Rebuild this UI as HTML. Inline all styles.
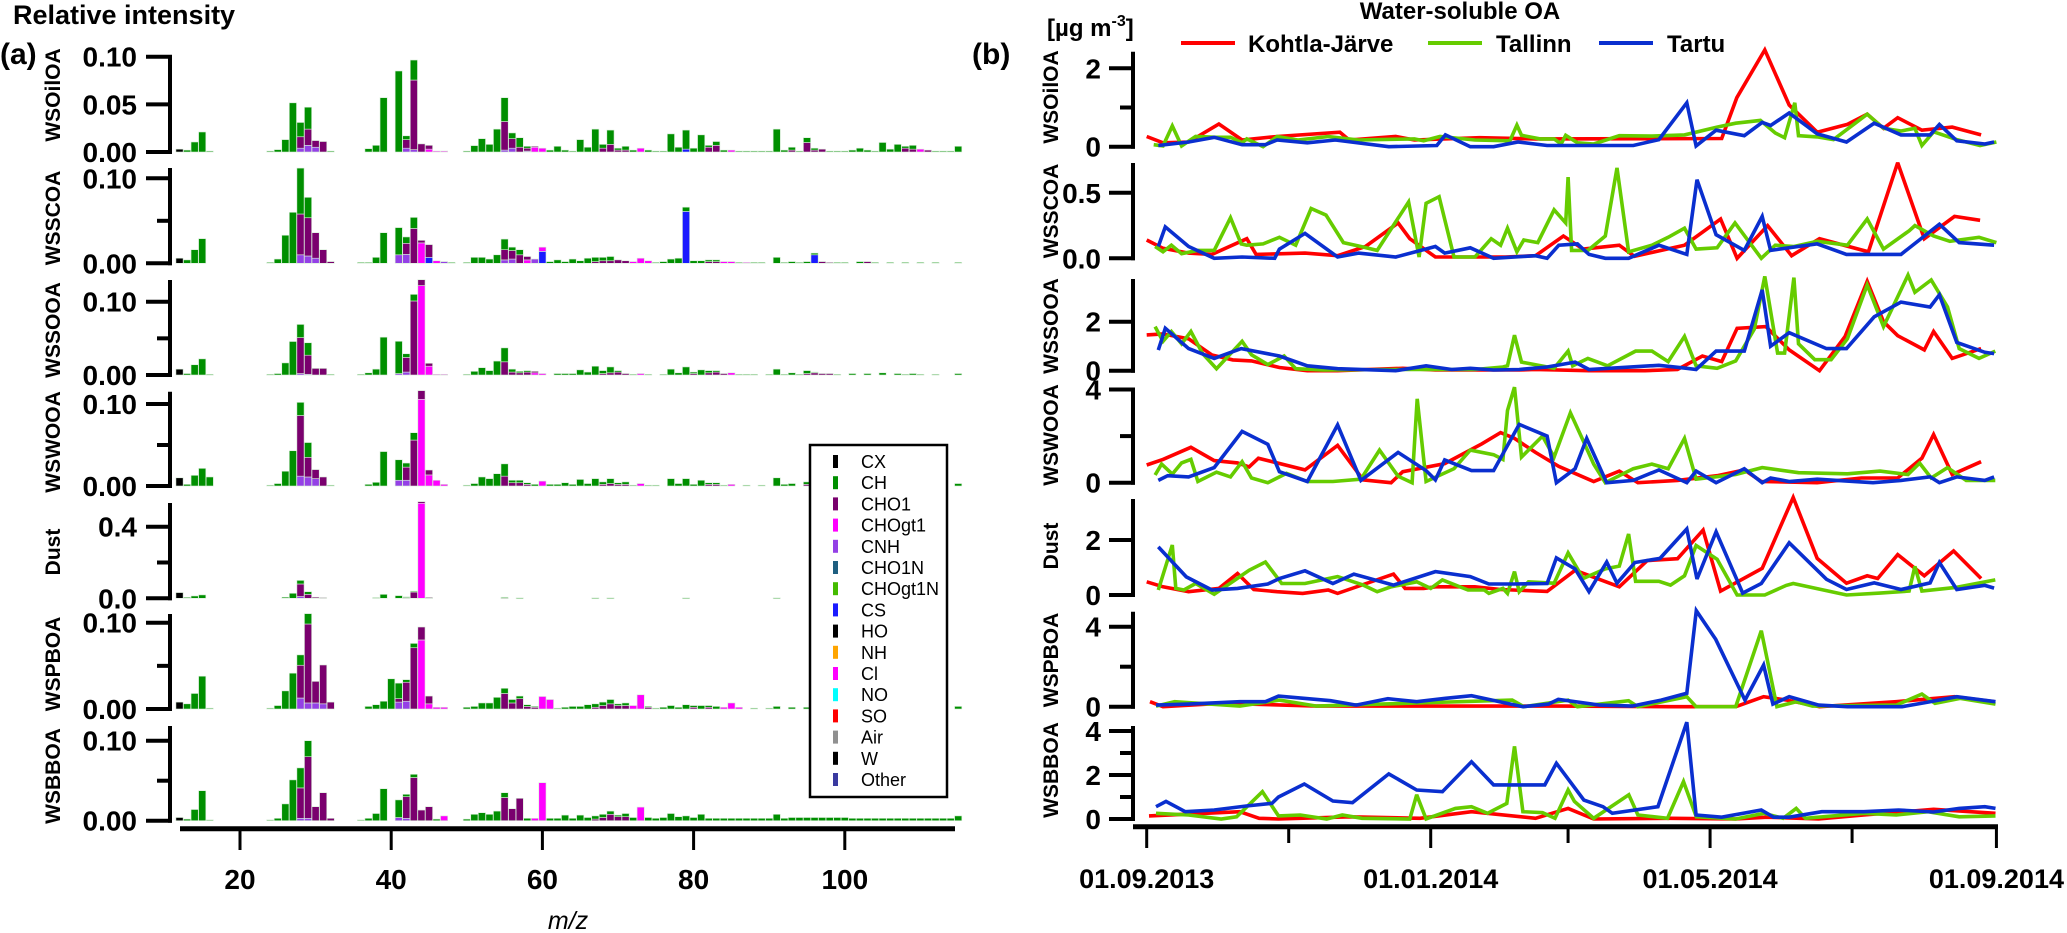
<!DOCTYPE html>
<html><head><meta charset="utf-8"><style>
html,body{margin:0;padding:0;background:#fff;}
svg{display:block;font-family:"Liberation Sans",Arial,sans-serif;}
</style></head><body>
<svg id="fig" width="2067" height="933" viewBox="0 0 2067 933" xmlns="http://www.w3.org/2000/svg">
<text x="13" y="24" font-size="27" font-weight="bold">Relative intensity</text>
<text x="0" y="64" font-size="30" font-weight="bold">(a)</text>
<text x="972" y="64" font-size="30" font-weight="bold">(b)</text>
<text x="1047" y="36" font-size="24" font-weight="bold">[µg m<tspan dy="-10" font-size="16">-3</tspan><tspan dy="10">]</tspan></text>
<text x="1460" y="19" font-size="24" font-weight="bold" text-anchor="middle">Water-soluble OA</text>
<text x="568" y="929" font-size="25" font-style="italic" text-anchor="middle">m/z</text>
<g id="left"></g>
<g id="right"></g>
<g id="legendL"></g>
<g id="legendR"></g>
</svg>
<script>
// ---------- Mass spectra data: [m/z, CH, CHO1, CHOgt1, CNH, CX, CS] ----------
const specWSOilOA = [[12,0,0,0,0,0.003],[13,0.002],[14,0.0105],[15,0.021],[16,0.001],[24,0.001],[25,0.0025],[26,0.013],[27,0.0516],[28,0.015,0.012,0,0.004],[29,0.023,0.017,0,0.007],[30,0,0.007,0,0.005],[31,0,0.011],[32,0.001],[37,0.0035],[38,0.007],[39,0.057],[41,0.085],[42,0.004,0.009,0,0.004],[43,0.021,0.073,0,0.0025],[44,0,0.0085],[45,0,0.004,0.003],[46,0,0,0.001],[47,0,0,0.001],[50,0.001],[51,0.0067],[52,0.014],[53,0.008],[54,0.024],[55,0.025,0.03,0,0.002],[56,0.006,0.01,0,0.004],[57,0.01,0.005],[58,0.002,0.003,0,0.001],[59,0,0.001,0.005],[60,0,0,0.004],[61,0.002],[62,0.006],[63,0.002],[64,0.001],[65,0.013],[66,0.005],[67,0.024],[68,0.004,0.004],[69,0.015,0.008],[70,0.002,0.002],[71,0.004,0.002],[72,0.002],[73,0,0,0.004],[74,0.002],[75,0.001],[76,0.001],[77,0.019],[78,0.005],[79,0.02,0,0,0,0,0.003],[80,0.004],[81,0.018],[82,0.002,0.005],[83,0.004,0.007],[84,0.002],[85,0,0,0.002],[86,0.001],[87,0.001],[88,0.001],[89,0.001],[90,0.001],[91,0.024],[92,0.002],[93,0.003,0.002],[94,0.001],[95,0.005,0.01],[96,0.002,0.002],[97,0,0.003],[98,0.001],[99,0.001],[100,0.001],[101,0.002],[102,0.004],[103,0.002],[104,0.001],[105,0.01],[106,0.003],[107,0.008],[108,0.002,0.004],[109,0.004,0.003],[110,0,0,0.003],[111,0,0.002],[112,0.001],[113,0.001],[114,0.001],[115,0.006]];
const specWSSCOA = [[12,0,0,0,0,0.006],[13,0.004],[14,0.016],[15,0.029],[24,0.001],[25,0.005],[26,0.033],[27,0.06],[28,0.054,0.048,0,0.01],[29,0.024,0.045,0,0.0086],[30,0,0.03,0,0.006],[31,0,0.016],[32,0,0.002],[36,0.001],[37,0.001],[38,0.007],[39,0.036],[41,0.032,0,0,0.01],[42,0.0075,0.013,0,0.0105],[43,0.013,0.041],[44,0,0.003,0.024],[45,0,0.015,0,0,0,0.007],[46,0,0,0.003],[47,0,0,0,0.002],[48,0.001],[50,0.001],[51,0.007],[52,0.007],[53,0.005],[54,0.01],[55,0.0125,0.012,0,0.004],[56,0.004,0.01,0,0.005],[57,0.006,0.01],[58,0,0.004,0.004],[59,0,0,0,0.005],[60,0,0,0.005,0,0,0.014],[61,0.002],[62,0.004],[63,0.002],[64,0.005],[65,0.003],[66,0.006],[67,0.005,0.002],[68,0.004,0.003],[69,0.005,0.003],[70,0,0.004],[71,0,0.003],[72,0,0,0.002],[73,0,0,0.006],[74,0,0,0.003],[75,0.001],[76,0.002],[77,0.005],[78,0.006],[79,0.005,0,0,0,0,0.061],[80,0.003],[81,0.003],[82,0.002,0.002],[83,0.002,0.002],[84,0,0,0.002],[85,0,0,0.002],[86,0.001],[87,0,0,0.001],[88,0.001],[89,0.001],[91,0.007],[92,0.001],[93,0.002],[94,0.001],[95,0.002],[96,0.002,0,0,0,0,0.01],[97,0,0.002],[98,0,0.001],[99,0.001],[100,0.001],[102,0.002],[103,0,0.002],[104,0.001],[106,0.001],[108,0.001],[110,0.001],[112,0.001],[115,0.001]];
const specWSSOOA = [[12,0,0,0,0,0.008],[13,0.002],[14,0.014],[15,0.022],[16,0.001],[24,0.001],[25,0.002],[26,0.0165],[27,0.0457],[28,0.018,0.049,0,0.002],[29,0.017,0.026,0,0.001],[30,0,0.009],[31,0,0.009],[32,0.001],[36,0.001],[37,0.003],[38,0.008],[39,0.0516],[41,0.044,0,0,0.002],[42,0.005,0.02,0,0.004],[43,0.009,0.101],[44,0,0.008,0.122],[45,0,0.004,0.012],[46,0,0,0.001],[47,0,0,0.001],[50,0.001],[51,0.005],[52,0.01],[53,0.006],[54,0.019],[55,0.019,0.018],[56,0.004,0.004],[57,0.002,0.003],[58,0.002,0.004],[59,0,0.002,0.003],[60,0,0,0.002],[62,0.002],[63,0.002],[64,0.002],[65,0.007],[66,0.004],[67,0.012],[68,0.004,0.002],[69,0.008,0.003],[70,0.002,0.004],[71,0,0.002],[72,0.001],[73,0,0,0.002],[74,0.001],[76,0.001],[77,0.008],[78,0.003],[79,0.011],[80,0.002,0.002],[81,0.007],[82,0.003,0.003],[83,0.002,0.004],[84,0,0.002],[85,0,0,0.003],[86,0.001],[87,0.001],[88,0.001],[90,0.001],[91,0.008],[92,0.001],[93,0.003],[94,0.001],[95,0.004,0.002],[96,0.001,0.003],[97,0,0.002],[98,0,0.002],[99,0.001],[101,0.002],[103,0.002],[105,0.003],[107,0.002],[108,0.001],[109,0.002],[110,0.001],[112,0.001],[115,0.002]];
const specWSWOOA = [[12,0,0,0,0,0.01],[13,0.002],[14,0.013],[15,0.0215],[16,0.011],[24,0.001],[25,0.003],[26,0.018],[27,0.043],[28,0.016,0.074,0,0.012],[29,0.018,0.024,0,0.011],[30,0,0.011,0,0.009],[31,0,0.011],[32,0.001],[37,0.002],[38,0.0045],[39,0.042],[41,0.025,0,0,0.007],[42,0.005,0.016,0,0.007],[43,0.009,0.056],[44,0,0.0106,0.1057],[45,0,0.006,0.0135],[46,0,0,0.007],[47,0,0,0.002],[50,0.001],[51,0.003],[52,0.011],[53,0.009],[54,0.015],[55,0.015,0.012],[56,0.003,0.004],[57,0.003,0.004],[58,0.002,0.002],[59,0.002],[60,0,0,0.006],[61,0.002],[62,0.002],[63,0.004],[64,0.002],[65,0.008],[66,0.003],[67,0.009],[68,0.003,0.002],[69,0.006,0.003],[70,0.002,0.002],[71,0.003,0.002],[72,0.001],[73,0,0,0.003],[74,0.001],[75,0.001],[77,0.009],[78,0.003],[79,0.009],[80,0.002],[81,0.007],[82,0.002,0.002],[83,0.002,0.002],[84,0.001],[85,0,0,0.002],[87,0.001],[89,0.001],[91,0.01],[92,0.002],[93,0.003],[95,0.003,0.002],[96,0.002],[97,0.001],[99,0.001],[101,0.002],[103,0.001],[105,0.002],[107,0.002],[109,0.001],[115,0.003]];
const specDust = [[12,0,0,0,0,0.032],[13,0.005],[14,0.013],[15,0.019],[26,0.006],[27,0.028],[28,0.02,0.07,0,0.01],[29,0.015,0.022],[30,0,0.006],[31,0,0.004],[38,0.004],[39,0.022],[41,0.015],[42,0.004,0.004],[43,0.005,0.035],[44,0,0.009,0.531],[45,0,0.002,0.003],[55,0.004,0.002],[57,0.002],[67,0.002],[69,0.002],[79,0.002],[91,0.002]];
const specWSPBOA = [[12,0,0,0,0,0.008],[13,0.006],[14,0.018],[15,0.038],[16,0.001],[24,0.001],[25,0.004],[26,0.021],[27,0.0415],[28,0.012,0.038,0,0.0127],[29,0.012,0.0915,0,0.007],[30,0,0.025,0,0.007],[31,0,0.045,0,0.006],[32,0,0.008],[37,0.003],[38,0.005],[39,0.009],[40,0.035],[41,0.018,0.004,0,0.008],[42,0.003,0.022,0,0.009],[43,0.005,0.071],[44,0,0.015,0.08],[45,0,0.009,0.006],[46,0,0,0.002],[47,0,0,0.002],[50,0.002],[51,0.003],[52,0.007],[53,0.007],[54,0.0135],[55,0.006,0.018],[56,0.004,0.007],[57,0.003,0.012],[58,0.002,0.003],[59,0.001,0.002],[60,0,0,0.0145],[61,0,0,0.011],[62,0.001],[63,0.002],[64,0.003],[65,0.003],[66,0.005],[67,0.004,0.002],[68,0.004,0.004],[69,0.005,0.006],[70,0.002,0.004],[71,0.003,0.004],[72,0,0,0.004],[73,0,0,0.0165],[74,0.001,0.002],[75,0.001],[76,0.002],[77,0.004],[78,0.002],[79,0.005],[80,0.002,0.002],[81,0.004],[82,0.002,0.002],[83,0.003],[84,0,0,0.002],[85,0,0,0.007],[86,0,0,0.002],[88,0.001],[90,0.001],[91,0.003],[93,0.002],[95,0.002],[97,0.001],[99,0.001],[101,0.001],[103,0.001],[105,0.001],[107,0.001],[109,0.001],[115,0.003]];
const specWSBBOA = [[12,0,0,0,0,0.004],[13,0.002],[14,0.014],[15,0.0375],[16,0.001],[24,0.001],[25,0.003],[26,0.021],[27,0.051],[28,0.025,0.038,0,0.003],[29,0.02,0.077,0,0.003],[30,0,0.0175],[31,0,0.035],[32,0,0.003],[36,0.001],[37,0.003],[38,0.009],[39,0.04],[41,0.022,0,0,0.004],[42,0.003,0.027,0,0.003],[43,0.004,0.054],[44,0,0.0133],[45,0,0.0175],[46,0.002],[47,0,0,0.006],[50,0.002],[51,0.008],[52,0.01],[53,0.008],[54,0.012],[55,0.006,0.029],[56,0,0.015],[57,0,0.028],[58,0.003],[59,0,0,0.003],[60,0,0,0.0475],[61,0.003],[62,0.003],[63,0.007],[64,0.003],[65,0.007],[66,0.004],[67,0.004,0.002],[68,0.004,0.004],[69,0.004,0.008],[70,0.002,0.005],[71,0.004,0.005],[72,0.004],[73,0,0,0.017],[74,0.004],[75,0.003],[76,0.004],[77,0.009],[78,0.005],[79,0.006],[80,0.004],[81,0.008],[82,0.003],[83,0.003],[84,0.003],[85,0.003],[86,0.003],[87,0.003],[88,0.003],[89,0.003],[90,0.003],[91,0.008],[92,0.003],[93,0.004],[94,0.004],[95,0.004],[96,0.004],[97,0.004],[98,0.004],[99,0.004],[100,0.004],[101,0.003],[102,0.003],[103,0.003],[104,0.003],[105,0.003],[106,0.003],[107,0.003],[108,0.003],[109,0.003],[110,0.003],[111,0.003],[112,0.003],[113,0.003],[114,0.003],[115,0.006]];

// ---------- Time series data: [days since 01.09.2013, µg m-3] ----------
const oilRed = [[0,0.26],[7,0.1],[18,0.12],[31,0.58],[41,0.17],[56,0.26],[83,0.37],[87,0.17],[107,0.26],[115,0.17],[143,0.23],[167,0.2],[247,0.21],[253.5,1.25],[265.5,2.47],[276,1.06],[288,0.37],[301,0.57],[309.5,0.83],[316.5,0.47],[322.6,0.74],[333,0.42],[346,0.5],[358.4,0.3]];
const oilGreen = [[3,0.05],[7,0.02],[11,0.53],[15,0.02],[21,0.26],[30,0.24],[36,0.24],[41,0.1],[43,0.2],[50,0.0],[56,0.26],[65,0.17],[78,0.26],[91,0.17],[115,0.2],[119,0.15],[126,0.26],[141,0.17],[156,0.15],[159,0.55],[161,0.29],[169,0.2],[175,0.2],[178,0.07],[180,0.29],[185,0.1],[192,0.07],[203,0.28],[217,0.27],[231,0.3],[245,0.5],[253,0.6],[263.6,0.67],[270,0.35],[274,0.23],[278.4,1.12],[280,0.28],[288,0.25],[295,0.18],[309.5,0.83],[316.5,0.47],[324,0.4],[330,0.47],[333,0.03],[338,0.38],[348,0.18],[358,0.03],[365,0.12]];
const oilBlue = [[5,0.03],[18,0.12],[29,0.24],[41,0.05],[51,0.05],[56,0.17],[69,0.1],[81,0.17],[104,0],[124.6,0.03],[128.3,0.3],[139,0],[149,0],[159.5,0.12],[172,0.03],[209,0.03],[220,0.18],[232,1.12],[236,0.02],[244.6,0.42],[256.7,0.28],[264.4,0.62],[268,0.54],[276,0.86],[288,0.33],[300.6,0.12],[312.5,0.6],[324,0.3],[336.5,0.3],[340.5,0.57],[348,0.15],[360,0.07],[364,0.12]];
const scRed = [[0,0.14],[7,0.076],[18,0.04],[28,0.03],[43,0.15],[47,0.03],[68,0.04],[82,0.02],[94,0.09],[108,0.27],[113,0.15],[124,0.01],[154,0.01],[167,0.02],[179,0.17],[187.5,0.07],[203,0.1],[209.5,0.015],[231,0.1],[246.5,0.3],[253.6,0],[266.7,0.25],[277,0.02],[289,0.15],[310,0.05],[322.6,0.73],[334,0.15],[347,0.32],[358,0.29]];
const scGreen = [[3.6,0.09],[7,0.05],[10.6,0.1],[15,0.035],[22,0.06],[29,0.06],[36,0.31],[40.6,0.11],[43,0.1],[50,0.11],[57,0.16],[64,0.1],[70.6,0.38],[77,0.33],[84.5,0.12],[92,0.09],[99,0.06],[112.5,0.43],[117,0.01],[120,0.42],[125.6,0.47],[132,0.01],[141,0.01],[148,0.15],[152,0.1],[155,0.23],[159,0.05],[162,0.14],[168,0.12],[175,0.37],[180,0.27],[181,0.62],[182.5,0.06],[189.5,0.06],[197,0.17],[202,0.69],[207,0.05],[217,0.1],[224,0.16],[231,0.23],[236,0.07],[245,0.08],[252.7,0.27],[264,0],[270,0.1],[278,0.09],[288,0.13],[301,0.1],[309.5,0.3],[316.5,0.07],[327.5,0.21],[330,0.25],[338,0.17],[345,0.13],[357.5,0.16],[365,0.12]];
const scBlue = [[5,0.09],[8,0.24],[18,0.09],[29,0],[41,0.01],[55,0],[57,0.07],[68,0.19],[82,0.01],[91,0.04],[107,0.01],[124,0.09],[128,0.04],[139,0.08],[149,0],[167,0.02],[172,0],[177,0.1],[185,0.11],[190,0.03],[197,0],[207,0],[220,0.1],[232,0.03],[236.4,0.6],[244.6,0.18],[256.7,0.06],[264.4,0.32],[268,0.06],[288,0.11],[300.6,0.03],[324,0.03],[340.5,0.26],[349,0.12],[364,0.1]];
const sooRed = [[0,1.46],[7,1.5],[18,1.3],[28,0.64],[37,0.44],[45,0.4],[57,0.13],[69,0],[82,0],[110,0.1],[124,0.03],[160,0.03],[167,0.05],[190,0],[214,0],[228,0.05],[238.7,0.6],[247,0.37],[253.6,1.73],[266,1.8],[276,0.85],[289,0],[300,1.4],[309.5,3.65],[316.5,2.0],[322.6,1.43],[334,0.85],[338,1.6],[346,0.5],[358.4,0.9]];
const sooGreen = [[3.6,1.8],[7,1.2],[10.6,1.6],[15,1.1],[19,1.6],[24,0.7],[30,0.08],[41,1.2],[45,0.65],[52,0.25],[59,0.6],[64,0.08],[76,0.03],[108,0.05],[141,0.05],[153,0.15],[155,0.2],[158,1.45],[161,0.35],[175,0.1],[181,0.8],[183,0.2],[189.5,0.5],[198,0.2],[210,0.8],[217,0.8],[224,0.37],[231,1.4],[236,0.2],[245,0.1],[253,0.4],[261,1.7],[265.5,3.85],[271,0.72],[274,0.72],[278,3.8],[280,1.1],[287,0.45],[294,0.45],[301,1.3],[309.5,3.5],[316.5,1.8],[327,3.9],[330,3.2],[337,3.7],[344,2.6],[349,0.9],[357.5,0.5],[364.5,0.8]];
const sooBlue = [[5,0.84],[8,1.73],[18,0.9],[29,0.5],[40.6,0.9],[57,0.6],[69,0.2],[82,0.08],[107,0],[120,0.2],[131,0.05],[139,0.1],[149,0.03],[160,0.05],[172,0.15],[184,0.35],[190,0.05],[220,0.22],[232,0.1],[236,0.05],[244.6,0.8],[256.7,0.8],[264.4,3.3],[268,1.0],[276,1.55],[292,0.9],[300.6,0.9],[312.5,2.2],[324,2.8],[336.5,2.6],[340.5,3.1],[348,1.15],[360,0.75],[364,0.7]];
const wooRed = [[0,0.76],[7,1.0],[19,1.52],[29,0.95],[39,0.85],[44,0.68],[48,1.05],[68,0.55],[82,1.6],[93,0.12],[105,0],[110,0.47],[128,0.82],[144,1.67],[152,2.15],[158,1.9],[167,1.3],[177,0.7],[192,0.05],[203,0.5],[211,0],[228,0.1],[245,0.3],[256.7,0.55],[264,0.05],[288,0],[307,0.2],[322.6,0.2],[333,1.05],[338,2.07],[346,0.35],[358.4,0.9]];
const wooGreen = [[3.6,0.33],[6.4,0.8],[11,0.37],[15,0.85],[19,1.0],[22,0.05],[30,0.45],[36,0.25],[41,0.9],[45,0.2],[52,0],[60,0.4],[69,0.05],[80,0.05],[92,0.15],[100,1.4],[108,0.28],[114,0],[116.2,3.6],[120,0.05],[132,0.6],[139,1.4],[149,1.2],[153,1.0],[155,3.1],[158,4.1],[161,1.1],[170,2.0],[175,1.1],[182,3.0],[187.5,1.8],[192,0.8],[197,0],[209,0.6],[217,0.8],[224,0.6],[231,1.9],[236,0.15],[253,0.35],[264.4,0.65],[280,0.43],[301,0.38],[315,0.5],[327,0.35],[332,0.84],[337,0.2],[344,0.65],[352,0.1],[364.5,0.1]];
const wooBlue = [[5,0.1],[9,0.3],[18,0.25],[29,0.65],[41,2.2],[52,1.65],[57,0.47],[69,0.05],[82,2.48],[92,0.1],[108,1.3],[120,0.52],[124,0.12],[128,0.98],[139.5,0.52],[149,0.52],[160,2.5],[172,2.0],[176,0],[184,0.6],[189,1.9],[197.6,0],[209,0.1],[220,0.55],[232,0],[236,0.5],[244.6,0],[256.7,0.6],[264.4,0],[268,0.2],[276,0.05],[288,0.15],[312,0],[324,0.1],[336.5,0.25],[340.5,0],[348,0.25],[360,0.1],[364,0.25]];
const dustRed = [[0,0.48],[7,0.3],[18,0.12],[31,0.24],[39,0.78],[46,0.2],[56,0.12],[67,0.06],[78,0.18],[82,0.06],[106,0.76],[111,0.24],[119,0.24],[124,0.3],[141,0.3],[152,0.2],[172,0.13],[184,0.9],[203,0.3],[215,1.25],[228,1.32],[239,2.36],[246.5,0.14],[264.4,0.97],[277.7,3.55],[288,1.33],[300.6,0.43],[309.5,0.7],[314,0.6],[322.6,1.47],[334,0.7],[346.6,1.6],[358.4,0.6]];
const dustGreen = [[5,0.18],[11,1.82],[12.5,0.24],[16,0.18],[21,0.42],[29,0.03],[38,0.55],[44,0.9],[51,1.2],[58,0.42],[68,0.42],[82,0.67],[93,0.36],[99,0.12],[105,0.3],[116,0.48],[122,0.24],[127,0.55],[138,0.18],[145,0.18],[147,0.06],[153,0.24],[155,0.06],[158,0.85],[160,0.12],[164,0.48],[175,0.43],[181,1.53],[187.5,0.6],[197,0.95],[203,1.05],[207,2.22],[210,0.5],[220,0.5],[225,0.36],[231,0.7],[236,1.8],[245,1.3],[253.6,0],[265.5,0],[274.7,0.35],[277.7,0.42],[300.6,0],[315,0.07],[327.5,0.14],[330,1.04],[333,0.14],[348,0.28],[364.5,0.55]];
const dustBlue = [[5,1.75],[17,0.66],[28,0.18],[39,0.24],[52,0.4],[57,0.6],[68,0.88],[80,0.42],[89,0.76],[106,0.36],[124,0.85],[139,0.67],[147,0.4],[158,0.4],[172,0.42],[176,1.35],[184,0.95],[190,0.12],[197.6,1.2],[202,0.43],[209.7,1.18],[220.5,1.33],[232,2.4],[236.4,0.58],[244.6,2.3],[256,0.07],[264,0.42],[276,1.9],[292,0.57],[300.6,0.2],[312.5,0.44],[324,0.2],[336.5,0.44],[340.5,1.18],[348,0.2],[360,0.35],[364,0.25]];
const pbRed = [[1.4,0.25],[7,0],[32,0.17],[73,0.03],[117,0.03],[178,0.03],[225,0],[253,0],[265,0.5],[275,0.33],[289,0],[322,0.25],[347,0.5],[364,0.25]];
const pbGreen = [[4,0.03],[12,0.25],[40,0.03],[57,0.33],[73,0.03],[157,0.33],[162,0],[181,0.33],[185,0],[207,0.3],[211,0],[232,0.5],[236,0],[253,0],[264,3.8],[270.7,0],[279,0.25],[286,0.03],[322,0.08],[333,0.63],[338.6,0.17],[349.4,0.42],[364.6,0.13]];
const pbBlue = [[4,0.08],[18,0.13],[40,0.25],[51,0.25],[56.6,0.53],[79,0.3],[90,0.08],[103.6,0.4],[116,0.25],[128.4,0.42],[139.5,0.55],[161.6,0],[172.6,0.13],[176.8,0.37],[194.7,0.08],[208.5,0.03],[221,0.33],[232,0.67],[236.1,4.8],[244.4,3.37],[257,0.33],[265,2.08],[269,0.13],[276,0.5],[288.6,0.08],[301,0],[324.5,0],[335.6,0.23],[348,0.5],[364.6,0.25]];
const bbRed = [[1,0.14],[40,0.33],[48.3,0.03],[56.6,0],[87,0.1],[117.4,0.03],[139.5,0.33],[167,0.03],[181,0.48],[192,0],[225,0.03],[253,0],[266.5,0.08],[288.6,0],[308,0.18],[338,0.44],[364.6,0.26]];
const bbGreen = [[4,0.26],[18,0.18],[32,0],[38.6,0.1],[49.7,1.24],[56.6,0.14],[66,0.18],[77.3,0],[84,0.18],[92.5,0.03],[113,0],[116,1.1],[120,0],[132.6,0.48],[139.5,0.56],[146.4,0.26],[154.7,0.71],[158,3.3],[161.6,0.33],[170,0.29],[175.4,0.03],[181,1.32],[183.7,0.8],[192,0.03],[207.1,1.1],[211,0.18],[223.7,0.03],[230.6,1.7],[236.1,0.1],[253,0],[265,0.26],[273.4,0.03],[279,0.48],[283,0.03],[308,0.26],[322,0.18],[335.6,0.33],[349,0.1],[364.6,0.14]];
const bbBlue = [[4,0.56],[8.3,0.8],[16.6,0.33],[29,0.41],[42.8,0.59],[53.8,0.71],[56.6,1.0],[67.7,1.59],[80,0.82],[88.4,0.74],[104,2.05],[116,1.32],[127,1.24],[139.5,2.6],[149,1.55],[171,1.55],[176,2.53],[187.8,0.86],[196,0.56],[200,0.26],[219.6,0.56],[232,4.4],[236,0.18],[247,0.08],[264,0.41],[269.3,0.08],[276,0.08],[290,0.33],[308,0.33],[323,0.41],[338,0.32],[349,0.48],[360,0.56],[364.6,0.48]];

const mzTicks = [20,40,60,80,100];
const dateTickDays = [0,122,242,365];
const dateTickLabels = ["01.09.2013","01.01.2014","01.05.2014","01.09.2014"];
const dateMinorDays = [61,181,303];
const legendSpecies = ["CX","CH","CHO1","CHOgt1","CNH","CHO1N","CHOgt1N","CS","HO","NH","Cl","NO","SO","Air","W","Other"];
const siteNames = ["Kohtla-Järve","Tallinn","Tartu"];

// ---------- helpers ----------
const NS="http://www.w3.org/2000/svg";
function mk(parent,tag,attrs){const e=document.createElementNS(NS,tag);for(const k in attrs)e.setAttribute(k,attrs[k]);parent.appendChild(e);return e;}
const left=document.getElementById('left'), right=document.getElementById('right');

// ---------- left spectra ----------
const xm = m => 240+(m-20)*7.56;
const compColors = {CX:"#000000",CNH:"#9440e6",CS:"#1a1aff",CHOgt1:"#ff00ff",CHO1:"#7a006e",CH:"#008f00"};
const stackOrder = [["CX",5],["CNH",4],["CS",6],["CHOgt1",3],["CHO1",2],["CH",1]];
const leftRows = [
 {name:"WSOilOA",data:specWSOilOA,zero:152,refY:56.7,refV:0.10,top:55,ticks:[[0,"0.00"],[0.05,"0.05"],[0.10,"0.10"]],minor:[],ly:95},
 {name:"WSSCOA",data:specWSSCOA,zero:263.3,refY:178.3,refV:0.10,top:168,ticks:[[0,"0.00"],[0.10,"0.10"]],minor:[0.05],ly:218},
 {name:"WSSOOA",data:specWSSOOA,zero:375,refY:301.7,refV:0.10,top:280,ticks:[[0,"0.00"],[0.10,"0.10"]],minor:[0.05],ly:330},
 {name:"WSWOOA",data:specWSWOOA,zero:486,refY:404,refV:0.10,top:391.7,ticks:[[0,"0.00"],[0.10,"0.10"]],minor:[0.05],ly:442},
 {name:"Dust",data:specDust,zero:598.3,refY:526.7,refV:0.4,top:503,ticks:[[0,"0.0"],[0.4,"0.4"]],minor:[0.2],ly:552},
 {name:"WSPBOA",data:specWSPBOA,zero:709,refY:622.7,refV:0.10,top:614,ticks:[[0,"0.00"],[0.10,"0.10"]],minor:[0.05],ly:664},
 {name:"WSBBOA",data:specWSBBOA,zero:820.7,refY:740.7,refV:0.10,top:726,ticks:[[0,"0.00"],[0.10,"0.10"]],minor:[0.05],ly:776}
];
leftRows.forEach((r,ri)=>{
  const g=mk(left,'g',{});
  
  
  const sc=(r.zero-r.refY)/r.refV;
  const ya=v=>r.zero-v*sc;
  const ax=mk(g,'line',{x1:170,y1:r.top,x2:170,y2:r.zero+2,stroke:"#000","stroke-width":4});
  
  
  r.ticks.forEach(t=>{
    const tl=mk(g,'line',{x1:146,y1:ya(t[0]),x2:172,y2:ya(t[0]),stroke:"#000","stroke-width":4});
    
    
    const tx=mk(g,'text',{x:137,y:ya(t[0])+10,"font-size":28,"font-weight":"bold","text-anchor":"end"});
    tx.textContent=t[1];
    
    
  });
  r.minor.forEach(v=>{
    const tl=mk(g,'line',{x1:157,y1:ya(v),x2:172,y2:ya(v),stroke:"#000","stroke-width":4});
    
    
  });
  const lab=mk(g,'text',{x:0,y:0,"font-size":21,"font-weight":"bold","text-anchor":"middle",transform:`translate(60,${r.ly}) rotate(-90)`});
  lab.textContent=r.name;
  
  
  r.data.forEach(d=>{
    let cum=0;
    stackOrder.forEach(([comp,idx])=>{
      const v=d[idx]||0; if(v<=0) return;
      const y1=ya(cum), y2=ya(cum+v);
      const b=mk(g,'rect',{x:xm(d[0])-3.6,y:y2,width:7.2,height:Math.max(y1-y2,0.8),fill:compColors[comp],stroke:"#d8ecd8","stroke-width":0.6});
      
      
      cum+=v;
    });
  });
});
// bottom m/z axis
const bax=mk(left,'line',{x1:180,y1:828.7,x2:955,y2:828.7,stroke:"#000","stroke-width":5});


mzTicks.forEach(m=>{
  const t=mk(left,'line',{x1:xm(m),y1:828,x2:xm(m),y2:850,stroke:"#000","stroke-width":3});
  
  
  const tx=mk(left,'text',{x:xm(m),y:889,"font-size":28,"font-weight":"bold","text-anchor":"middle"});
  tx.textContent=m;
  
  
});
// species legend
const legL=document.getElementById('legendL');
const legColors=["#000","#008f00","#7a006e","#ff00ff","#9440e6","#1f5f80","#44bb00","#1a1aff","#000","#ffa500","#ff00ff","#00ffff","#ff0000","#909090","#000","#3a3aa0"];
const lb=mk(legL,'rect',{x:810,y:445,width:137,height:352,fill:"#fff",stroke:"#000","stroke-width":2.5});


legendSpecies.forEach((s,i)=>{
  const y=462+i*21.2;
  const m=mk(legL,'rect',{x:833,y:y-7,width:5,height:13,fill:legColors[i]});
  
  
  const t=mk(legL,'text',{x:861,y:y+6,"font-size":18});
  t.textContent=s;
  
  
});

// ---------- right time series ----------
const xd = d => 1146.7+d*2.328;
const lineColors = {red:"#ff0000",green:"#66cc00",blue:"#0a2fcf"};
const rightRows = [
 {name:"WSOilOA",zero:146.7,ppu:39.2,top:51.7,labels:[[0,"0"],[2,"2"]],minor:[1],ly:97,series:[oilRed,oilGreen,oilBlue]},
 {name:"WSSCOA",zero:258.3,ppu:131,top:163,labels:[[0,"0.0"],[0.5,"0.5"]],minor:[],ly:211,series:[scRed,scGreen,scBlue]},
 {name:"WSSOOA",zero:370.7,ppu:24.5,top:279,labels:[[0,"0"],[2,"2"]],minor:[],ly:326,series:[sooRed,sooGreen,sooBlue]},
 {name:"WSWOOA",zero:482.7,ppu:23.3,top:388,labels:[[0,"0"],[4,"4"]],minor:[2],ly:435,series:[wooRed,wooGreen,wooBlue]},
 {name:"Dust",zero:595,ppu:27.5,top:499,labels:[[0,"0"],[2,"2"]],minor:[],ly:546,series:[dustRed,dustGreen,dustBlue]},
 {name:"WSPBOA",zero:706.7,ppu:20,top:611.7,labels:[[0,"0"],[4,"4"]],minor:[2],ly:660,series:[pbRed,pbGreen,pbBlue]},
 {name:"WSBBOA",zero:819,ppu:22,top:726,labels:[[0,"0"],[2,"2"],[4,"4"]],minor:[1,3],ly:770,series:[bbRed,bbGreen,bbBlue]}
];
const serNames=["red","green","blue"];
const siteKeys=["kohtla-jarve","tallinn","tartu"];
rightRows.forEach(r=>{
  const g=mk(right,'g',{});
  
  
  const ya=v=>r.zero-v*r.ppu;
  const ax=mk(g,'line',{x1:1133,y1:r.top,x2:1133,y2:r.zero+2,stroke:"#000","stroke-width":4});
  
  
  r.labels.forEach(t=>{
    const tl=mk(g,'line',{x1:1109,y1:ya(t[0]),x2:1135,y2:ya(t[0]),stroke:"#000","stroke-width":4});
    
    
    const tx=mk(g,'text',{x:1101,y:ya(t[0])+10,"font-size":28,"font-weight":"bold","text-anchor":"end"});
    tx.textContent=t[1];
    
    
  });
  r.minor.forEach(v=>{
    const tl=mk(g,'line',{x1:1120,y1:ya(v),x2:1135,y2:ya(v),stroke:"#000","stroke-width":4});
    
    
  });
  const lab=mk(g,'text',{x:0,y:0,"font-size":21,"font-weight":"bold","text-anchor":"middle",transform:`translate(1058,${r.ly}) rotate(-90)`});
  lab.textContent=r.name;
  
  
  r.series.forEach((s,si)=>{
    const pts=s.map(p=>xd(p[0]).toFixed(1)+','+ya(p[1]).toFixed(1)).join(' ');
    const pl=mk(g,'polyline',{points:pts,fill:"none",stroke:lineColors[serNames[si]],"stroke-width":3.6,"stroke-linejoin":"miter","stroke-miterlimit":3});
    
    
  });
});
const dax=mk(right,'line',{x1:1133,y1:826.7,x2:1998,y2:826.7,stroke:"#000","stroke-width":5});


dateTickDays.forEach((d,i)=>{
  const t=mk(right,'line',{x1:xd(d),y1:826,x2:xd(d),y2:848,stroke:"#000","stroke-width":3});
  
  
  const tx=mk(right,'text',{x:xd(d),y:888,"font-size":27,"font-weight":"bold","text-anchor":"middle"});
  tx.textContent=dateTickLabels[i];
  
  
});
dateMinorDays.forEach(d=>{
  const t=mk(right,'line',{x1:xd(d),y1:826,x2:xd(d),y2:843,stroke:"#000","stroke-width":3});
  
  
});
// site legend
const legR=document.getElementById('legendR');
const legPos=[[1181,1248],[1428,1496],[1599,1667]];
siteNames.forEach((n,i)=>{
  const l=mk(legR,'line',{x1:legPos[i][0],y1:43,x2:legPos[i][0]+54,y2:43,stroke:lineColors[serNames[i]],"stroke-width":4});
  
  
  const t=mk(legR,'text',{x:legPos[i][1],y:52,"font-size":24,"font-weight":"bold"});
  t.textContent=n;
  
  
});
</script>
</body></html>
